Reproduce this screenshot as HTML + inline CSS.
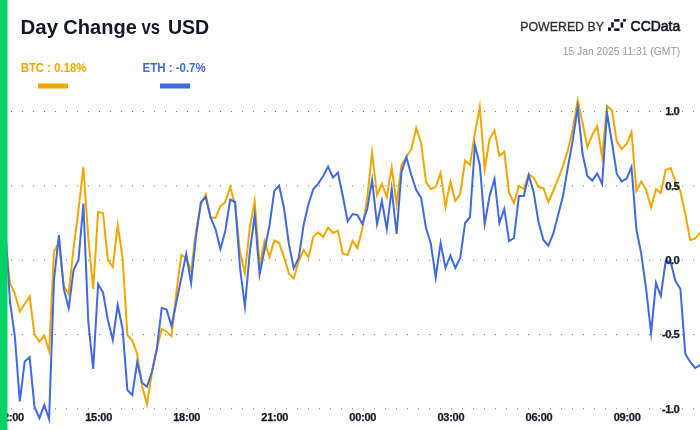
<!DOCTYPE html>
<html><head><meta charset="utf-8"><title>Day Change vs USD</title>
<style>
.ax{font-size:11px;}
html,body{margin:0;padding:0;background:#fff;}
body{width:700px;height:430px;overflow:hidden;font-family:"Liberation Sans",sans-serif;}
svg{display:block;}
text{font-family:"Liberation Sans",sans-serif;}
.ax text{font-weight:bold;fill:#111827;stroke:#111827;stroke-width:0.25px;}
</style></head><body>
<svg width="700" height="430" viewBox="0 0 700 430">
<rect width="700" height="430" fill="#fff"/>
<g stroke="#777" stroke-width="1" stroke-dasharray="1 10"><line x1="11" x2="700" y1="111.5" y2="111.5"/><line x1="11" x2="700" y1="185.9" y2="185.9"/><line x1="11" x2="700" y1="260.25" y2="260.25"/><line x1="11" x2="700" y1="334.5" y2="334.5"/><line x1="11" x2="700" y1="408.8" y2="408.8"/></g>
<polyline fill="none" stroke="#F1A702" stroke-width="2" stroke-linejoin="miter" stroke-miterlimit="10" points="5.1,236.0 10.0,283.0 14.9,294.0 19.8,311.5 24.7,304.0 29.6,296.5 34.5,334.5 39.4,341.5 44.3,335.5 49.1,351.0 54.0,251.5 58.9,243.0 63.8,286.0 68.7,294.0 73.6,248.0 78.5,210.0 83.4,167.4 88.3,238.0 93.2,289.0 98.1,212.0 103.0,213.0 107.9,259.6 112.8,267.0 117.7,225.0 122.6,258.0 127.4,335.0 132.3,340.5 137.2,354.0 142.1,386.0 147.0,404.5 151.9,373.0 156.8,349.0 161.7,329.0 166.6,332.0 171.5,336.0 176.4,292.0 181.3,255.0 186.2,258.0 191.1,271.0 196.0,232.0 200.9,205.0 205.7,194.4 210.6,217.6 215.5,218.0 220.4,206.4 225.3,202.0 230.2,187.0 235.1,205.0 240.0,252.0 244.9,273.0 249.8,228.0 254.7,201.0 259.6,266.0 264.5,241.0 269.4,257.0 274.3,240.4 279.1,243.0 284.0,257.0 288.9,273.6 293.8,278.6 298.7,261.0 303.6,250.0 308.5,257.6 313.4,236.6 318.3,232.4 323.2,237.0 328.1,227.6 333.0,233.0 337.9,230.6 342.8,253.6 347.7,255.0 352.6,241.0 357.4,248.0 362.3,229.0 367.2,198.0 372.1,152.5 377.0,195.0 381.9,184.0 386.8,197.0 391.7,167.5 396.6,204.0 401.5,165.0 406.4,157.0 411.3,149.4 416.2,128.0 421.1,143.0 426.0,182.0 430.8,189.0 435.7,187.0 440.6,173.0 445.5,207.0 450.4,181.5 455.3,201.0 460.2,194.0 465.1,160.6 470.0,165.0 474.9,133.0 479.8,107.0 484.7,169.0 489.6,139.0 494.5,130.6 499.4,156.0 504.3,152.0 509.1,193.0 514.0,203.0 518.9,186.0 523.8,189.0 528.7,174.5 533.6,177.4 538.5,187.0 543.4,188.0 548.3,202.0 553.2,191.0 558.1,179.0 563.0,166.0 567.9,150.0 572.8,129.0 577.7,100.5 582.6,123.0 587.4,147.0 592.3,135.0 597.2,126.0 602.1,157.0 607.0,106.0 611.9,110.0 616.8,141.6 621.7,149.0 626.6,144.0 631.5,132.0 636.4,191.0 641.3,181.5 646.2,190.0 651.1,207.5 656.0,189.0 660.8,193.0 665.7,170.0 670.6,168.0 675.5,182.0 680.4,191.0 685.3,214.0 690.2,240.0 695.1,238.6 700.0,233.0 704.9,232.0"/>
<polyline fill="none" stroke="#4169E1" stroke-width="2" stroke-linejoin="miter" stroke-miterlimit="10" points="5.1,225.0 10.0,302.0 14.9,337.0 19.8,401.5 24.7,361.6 29.6,357.0 34.5,407.0 39.4,418.0 44.3,405.0 49.1,419.0 54.0,280.0 58.9,235.0 63.8,289.0 68.7,308.0 73.6,270.0 78.5,260.0 83.4,203.6 88.3,322.0 93.2,369.0 98.1,284.0 103.0,292.4 107.9,320.0 112.8,340.0 117.7,305.0 122.6,329.0 127.4,390.0 132.3,395.0 137.2,362.0 142.1,383.0 147.0,386.6 151.9,372.0 156.8,349.0 161.7,308.0 166.6,309.6 171.5,326.0 176.4,302.0 181.3,278.0 186.2,254.0 191.1,283.0 196.0,236.0 200.9,202.0 205.7,197.0 210.6,217.6 215.5,229.0 220.4,249.0 225.3,231.0 230.2,199.6 235.1,202.0 240.0,267.5 244.9,306.5 249.8,252.0 254.7,215.0 259.6,274.5 264.5,250.0 269.4,226.0 274.3,191.0 279.1,185.6 284.0,208.0 288.9,244.0 293.8,268.4 298.7,258.0 303.6,225.0 308.5,204.0 313.4,189.0 318.3,183.6 323.2,176.0 328.1,166.5 333.0,177.6 337.9,172.5 342.8,196.0 347.7,221.5 352.6,214.0 357.4,215.0 362.3,224.0 367.2,209.0 372.1,180.0 377.0,224.0 381.9,201.0 386.8,229.0 391.7,189.0 396.6,234.0 401.5,172.0 406.4,157.0 411.3,175.0 416.2,190.0 421.1,197.6 426.0,228.0 430.8,243.5 435.7,277.5 440.6,243.0 445.5,268.0 450.4,255.4 455.3,268.0 460.2,258.0 465.1,223.0 470.0,217.0 474.9,145.0 479.8,165.0 484.7,224.0 489.6,196.0 494.5,179.0 499.4,223.0 504.3,209.0 509.1,241.0 514.0,238.0 518.9,196.0 523.8,196.0 528.7,175.0 533.6,192.0 538.5,222.0 543.4,240.0 548.3,245.6 553.2,234.0 558.1,215.0 563.0,196.0 567.9,167.0 572.8,140.0 577.7,107.5 582.6,154.0 587.4,176.0 592.3,180.6 597.2,173.4 602.1,184.0 607.0,113.0 611.9,142.0 616.8,174.0 621.7,181.4 626.6,178.6 631.5,167.0 636.4,229.5 641.3,254.0 646.2,289.5 651.1,333.0 656.0,283.0 660.8,296.0 665.7,261.0 670.6,262.0 675.5,281.0 680.4,289.0 685.3,354.0 690.2,362.0 695.1,368.0 700.0,365.0 704.9,366.0"/>
<g class="ax" text-anchor="end" style="font-size:11.3px;letter-spacing:-0.5px"><text x="679.4" y="115.3">1.0</text><text x="679.4" y="189.7">0.5</text><text x="679.4" y="264.3">0.0</text><text x="679.4" y="338.4">-0.5</text><text x="679.4" y="412.6">-1.0</text></g>
<g class="ax" text-anchor="middle" style="letter-spacing:-0.25px"><text x="10.5" y="421">12:00</text><text x="98.6" y="421">15:00</text><text x="186.7" y="421">18:00</text><text x="274.8" y="421">21:00</text><text x="362.8" y="421">00:00</text><text x="450.9" y="421">03:00</text><text x="539.0" y="421">06:00</text><text x="627.1" y="421">09:00</text></g>
<rect x="0" y="0" width="7.5" height="430" fill="#05D266"/>
<text y="34.2" font-size="20.2" font-weight="bold" fill="#111827"><tspan x="20.6" textLength="37.5" lengthAdjust="spacingAndGlyphs">Day</tspan> <tspan x="63.3" textLength="73.5" lengthAdjust="spacingAndGlyphs">Change</tspan> <tspan x="141.5" textLength="18.6" lengthAdjust="spacingAndGlyphs">vs</tspan> <tspan x="167.9" textLength="41.2" lengthAdjust="spacingAndGlyphs">USD</tspan></text>
<text x="20.7" y="71.6" font-size="12" font-weight="bold" fill="#F1A702" textLength="65.7" lengthAdjust="spacingAndGlyphs">BTC : 0.18%</text>
<rect x="38" y="83.5" width="30" height="5" fill="#F1A702"/>
<text x="142.6" y="71.6" font-size="12" font-weight="bold" fill="#4169E1" textLength="63.1" lengthAdjust="spacingAndGlyphs">ETH : -0.7%</text>
<rect x="160" y="83.5" width="30" height="5" fill="#4169E1"/>
<text x="520.3" y="30.6" font-size="12.5" fill="#2b2f38" stroke="#2b2f38" stroke-width="0.3" textLength="83.6" lengthAdjust="spacingAndGlyphs">POWERED BY</text>
<g fill="#111827">
<rect x="608" y="27.4" width="3.1" height="3.4"/>
<rect x="611.2" y="22.3" width="2.6" height="5.3"/>
<rect x="614.1" y="19.1" width="5.4" height="2.5"/>
<rect x="614.1" y="28.4" width="5.4" height="2.5"/>
<rect x="620.5" y="22.3" width="2.6" height="5.3"/>
<rect x="623" y="19.1" width="2.9" height="2.5"/>
</g>
<text x="630.6" y="30.6" font-size="13.8" fill="#111827" stroke="#111827" stroke-width="0.6" textLength="49.6" lengthAdjust="spacingAndGlyphs">CCData</text>
<text x="680.2" y="55" font-size="11" fill="#999" text-anchor="end" textLength="117.5" lengthAdjust="spacingAndGlyphs">15 Jan 2025 11:31 (GMT)</text>
</svg>
</body></html>
